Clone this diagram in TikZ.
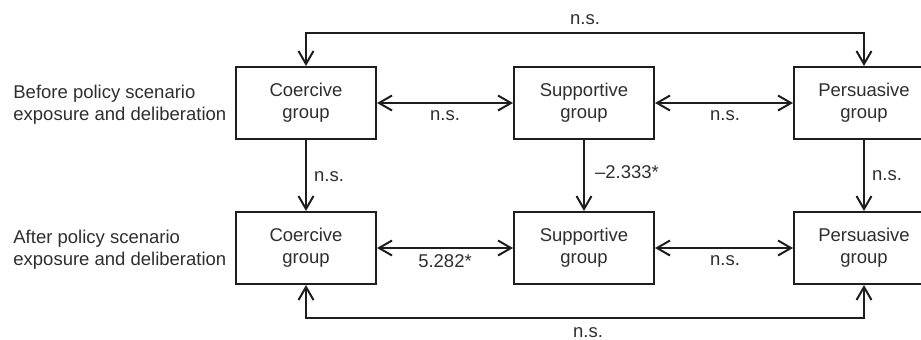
\documentclass[tikz,border=0pt]{standalone}
\usepackage{fontspec}
\setmainfont{Liberation Sans}
\usetikzlibrary{arrows.meta}
\definecolor{txt}{HTML}{2E2E2E}
\definecolor{ln}{HTML}{1E1E1E}
\begin{document}
\begin{tikzpicture}[x=0.5pt,y=-0.5pt,
  font=\fontsize{9.25pt}{10.9pt}\selectfont,
  grp/.style={draw=ln,line width=1pt,minimum width=70pt,minimum height=36pt,inner sep=0pt,align=center,text=txt},
  lbl/.style={text=txt,inner sep=0pt},
  arr/.style={draw=ln,line width=1pt,arrows={-Straight Barb[length=6.5pt,width=7.5pt]}},
  darr/.style={draw=ln,line width=1pt,arrows={Straight Barb[length=6.5pt,width=7.5pt]-Straight Barb[length=6.5pt,width=7.5pt]}}]
\clip (0,0) rectangle (921,339);
\useasboundingbox (0,0) rectangle (921,339);
% row labels
\node[lbl,anchor=west,align=left] (before) at (13,105) {Before policy scenario\\exposure and deliberation};
\node[lbl,anchor=west,align=left] (after) at (13,250) {After policy scenario\\exposure and deliberation};
% boxes
\node[grp] (c1) at (306,103) {Coercive\\group};
\node[grp] (s1) at (584,103) {Supportive\\group};
\node[grp] (p1) at (864,103) {Persuasive\\group};
\node[grp] (c2) at (306,248) {Coercive\\group};
\node[grp] (s2) at (584,248) {Supportive\\group};
\node[grp] (p2) at (864,248) {Persuasive\\group};
% horizontal arrows
\draw[darr] (c1) -- (s1);
\draw[darr] (s1) -- (p1);
\draw[darr] (c2) -- (s2);
\draw[darr] (s2) -- (p2);
% vertical arrows
\draw[arr] (c1) -- (c2);
\draw[arr] (s1) -- (s2);
\draw[arr] (p1) -- (p2);
% loops
\coordinate (top) at (0,33);
\coordinate (bot) at (0,318);
\draw[darr] (c1.north) -- (c1.north |- top) -- (p1.north |- top) -- (p1.north);
\draw[darr] (c2.south) -- (c2.south |- bot) -- (p2.south |- bot) -- (p2.south);
% edge labels
\node[lbl] (l1) at (585,20) {n.s.};
\node[lbl] (l2) at (445,116) {n.s.};
\node[lbl] (l3) at (725,116) {n.s.};
\node[lbl] (l4) at (329,177) {n.s.};
\node[lbl] (l5) at (627,172) {–2.333*};
\node[lbl] (l6) at (887,176) {n.s.};
\node[lbl] (l7) at (445,261) {5.282*};
\node[lbl] (l8) at (725,261) {n.s.};
\node[lbl] (l9) at (588,333) {n.s.};
\end{tikzpicture}
\end{document}
